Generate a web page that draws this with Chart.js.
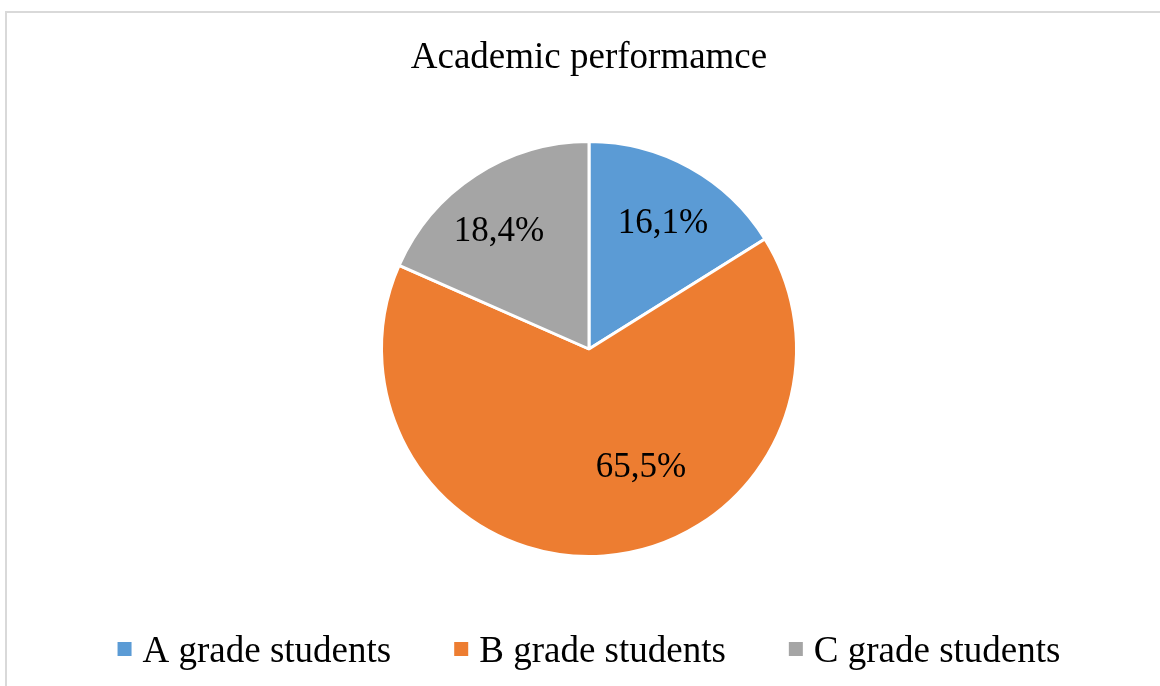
<!DOCTYPE html>
<html><head><meta charset="utf-8">
<script src="https://cdn.jsdelivr.net/npm/chart.js@4.4.0/dist/chart.umd.min.js"></script>
<style>
html,body{margin:0;padding:0;background:#fff;overflow:hidden;width:1160px;height:686px;}
#frame{position:absolute;left:5px;top:11px;width:1200px;height:700px;border:2px solid #d9d9d9;box-sizing:border-box;}
#wrap{position:absolute;left:0;top:0;width:1160px;height:686px;}
</style></head><body>
<div id="frame"></div>
<div id="wrap"><canvas id="c" width="1160" height="686"></canvas></div>
<script>
const categories = ['A grade students', 'B grade students', 'C grade students'];
const shares = [16.1, 65.5, 18.4];
const shareLabels = ['16,1%', '65,5%', '18,4%'];
const sliceColors = ['#5B9BD5', '#ED7D31', '#A5A5A5'];
const chartTitle = 'Academic performamce';

const serif = "'Liberation Serif', 'Times New Roman', serif";

const sliceLabelPlugin = {
  id: 'sliceLabels',
  afterDatasetsDraw(chart, args, opts) {
    const meta = chart.getDatasetMeta(0);
    const ctx = chart.ctx;
    ctx.save();
    ctx.font = opts.size + 'px ' + serif;
    ctx.fillStyle = opts.color;
    ctx.textAlign = 'center';
    ctx.textBaseline = 'alphabetic';
    meta.data.forEach((arc, i) => {
      const p = arc.getProps(['x', 'y', 'startAngle', 'endAngle', 'outerRadius'], true);
      const pl = opts.placement[i];
      const mid = (p.startAngle + p.endAngle) / 2 + pl.dAngle * Math.PI / 180;
      const r = p.outerRadius * pl.r;
      ctx.fillText(shareLabels[i], p.x + Math.cos(mid) * r, p.y + Math.sin(mid) * r + opts.size * 0.338);
    });
    ctx.restore();
  }
};

const bottomLegendPlugin = {
  id: 'bottomLegend',
  afterDraw(chart, args, opts) {
    const ctx = chart.ctx;
    ctx.save();
    ctx.font = opts.size + 'px ' + serif;
    const widths = categories.map(t => opts.box + opts.gap + ctx.measureText(t).width);
    const total = widths.reduce((a, b) => a + b, 0) + opts.itemGap * (categories.length - 1);
    const cx = (chart.chartArea.left + chart.chartArea.right) / 2;
    let x = cx - total / 2;
    categories.forEach((t, i) => {
      ctx.fillStyle = sliceColors[i];
      ctx.fillRect(x, opts.boxTop, opts.box, opts.box);
      ctx.fillStyle = opts.color;
      ctx.textAlign = 'left';
      ctx.textBaseline = 'alphabetic';
      ctx.fillText(t, x + opts.box + opts.gap, opts.baseline);
      x += widths[i] + opts.itemGap;
    });
    ctx.restore();
  }
};

new Chart(document.getElementById('c'), {
  type: 'pie',
  data: {
    labels: categories,
    datasets: [{
      data: shares,
      backgroundColor: sliceColors,
      borderColor: '#ffffff',
      borderWidth: 3
    }]
  },
  options: {
    responsive: false,
    animation: false,
    devicePixelRatio: 1,
    layout: { padding: { left: 18, right: 0, top: 0, bottom: 128 } },
    plugins: {
      legend: { display: false },
      tooltip: { enabled: false },
      title: {
        display: true,
        text: chartTitle,
        color: '#000000',
        font: { family: serif, size: 37, weight: 'normal' },
        padding: { top: 36, bottom: 59.6 }
      },
      sliceLabels: {
        size: 35,
        color: '#000000',
        placement: [
          { dAngle: 1.1, r: 0.712 },
          { dAngle: -20, r: 0.613 },
          { dAngle: -3.8, r: 0.723 }
        ]
      },
      bottomLegend: {
        size: 37,
        color: '#000000',
        box: 14,
        boxTop: 642,
        gap: 11,
        itemGap: 63,
        baseline: 662
      }
    }
  },
  plugins: [sliceLabelPlugin, bottomLegendPlugin]
});
</script>
</body></html>
